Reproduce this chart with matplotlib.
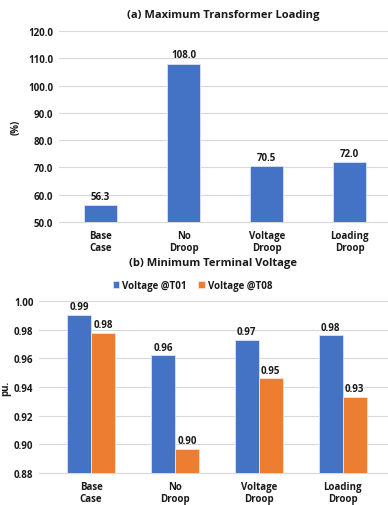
import matplotlib.pyplot as plt
import numpy as np

plt.rcParams['font.family'] = ['Open Sans', 'DejaVu Sans']
plt.rcParams['font.weight'] = 'bold'

cases = ['Base\nCase', 'No\nDroop', 'Voltage\nDroop', 'Loading\nDroop']
loading = [56.3, 108.0, 70.5, 72.0]
v_t01 = [0.990, 0.962, 0.973, 0.976]
v_t08 = [0.978, 0.897, 0.946, 0.933]

blue = '#4472C4'
orange = '#ED7D31'
txt = '#1A1A1A'
grid = '#D9D9D9'

fig = plt.figure(figsize=(3.88, 5.06), dpi=100)

# (a) transformer loading
ax1 = fig.add_axes([0.152, 0.5593, 0.848, 0.3775])
x = np.arange(len(cases))
bars = ax1.bar(x, loading, width=0.4, color=blue, edgecolor='#DCE3F2', linewidth=0.6, zorder=3)
for b, v in zip(bars, loading):
    ax1.text(b.get_x() + b.get_width() / 2, v + 1.2, f'{v:.1f}', ha='center', va='bottom',
             fontsize=7, fontweight='bold', color=txt)
ax1.set_ylim(50, 120)
ax1.set_yticks(np.arange(50, 121, 10))
ax1.set_yticklabels([f'{t:.1f}' for t in np.arange(50, 121, 10)])
ax1.set_xlim(-0.5, 3.46)
ax1.set_xticks(x)
ax1.set_xticklabels(cases)
ax1.set_ylabel('(%)', fontsize=7, fontweight='bold', color=txt, labelpad=5)
ax1.set_title('(a) Maximum Transformer Loading', fontsize=8, fontweight='bold', color=txt, pad=10)

# (b) terminal voltage
ax2 = fig.add_axes([0.1005, 0.0632, 0.8995, 0.34])
w = 0.286
ax2.bar(x - w / 2, v_t01, width=w, color=blue, edgecolor='#DCE3F2', linewidth=0.6,
        zorder=3, label='Voltage @T01')
ax2.bar(x + w / 2, v_t08, width=w, color=orange, edgecolor='#FBE2D5', linewidth=0.6,
        zorder=3, label='Voltage @T08')
for xi, a, b in zip(x, v_t01, v_t08):
    ax2.text(xi - w / 2, a + 0.002, f'{a:.2f}', ha='center', va='bottom',
             fontsize=7, fontweight='bold', color=txt)
    ax2.text(xi + w / 2, b + 0.002, f'{b:.2f}', ha='center', va='bottom',
             fontsize=7, fontweight='bold', color=txt)
ax2.set_ylim(0.88, 1.00)
ax2.set_yticks(np.arange(0.88, 1.001, 0.02))
ax2.set_yticklabels([f'{t:.2f}' for t in np.arange(0.88, 1.001, 0.02)])
ax2.set_xlim(-0.62, 3.54)
ax2.set_xticks(x)
ax2.set_xticklabels(cases)
ax2.set_ylabel('pu.', fontsize=7, fontweight='bold', color=txt, labelpad=2)
ax2.set_title('(b) Minimum Terminal Voltage', fontsize=8, fontweight='bold', color=txt, pad=26)
ax2.legend(loc='lower center', bbox_to_anchor=(0.44, 1.01), ncol=2, frameon=False,
           fontsize=7, handlelength=0.7, handleheight=0.7, handletextpad=0.3,
           columnspacing=1.2, labelcolor=txt, prop={'weight': 'bold', 'size': 7})

for ax in (ax1, ax2):
    ax.grid(axis='y', color=grid, linewidth=0.8, zorder=0)
    for s in ('top', 'right', 'left'):
        ax.spines[s].set_visible(False)
    ax.spines['bottom'].set_color(grid)
    ax.tick_params(length=0, labelsize=7, colors=txt, pad=4)
    ax.tick_params(axis='x', pad=5.5)
    for lab in ax.get_xticklabels() + ax.get_yticklabels():
        lab.set_fontweight('bold')

fig.savefig('out.png', dpi=100)
